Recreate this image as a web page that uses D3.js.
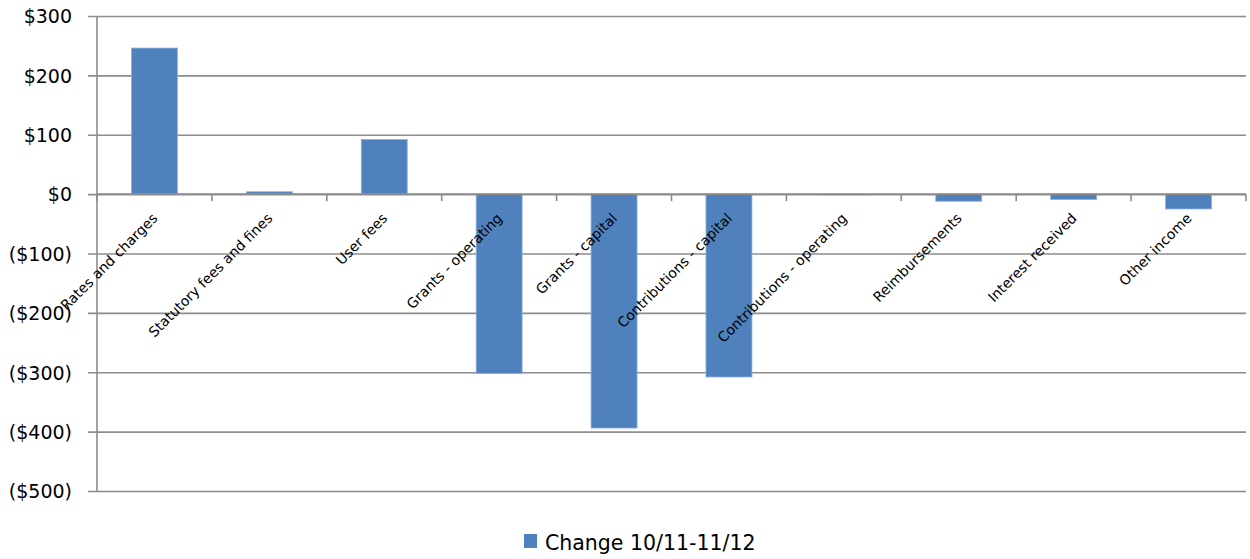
<!DOCTYPE html>
<html>
<head>
<meta charset="utf-8">
<script src="https://cdn.jsdelivr.net/npm/d3@7/dist/d3.min.js"></script>
<style>
  html, body { margin: 0; padding: 0; background: #fff; }
  svg { display: block; }
  text { font-family: "DejaVu Sans", sans-serif; fill: #000; }
</style>
</head>
<body>
<svg id="chart" width="1250" height="559"></svg>
<script>
// Revenue categories and their change between 2010/11 and 2011/12 ($ thousands)
const categories = [
  "Rates and charges",
  "Statutory fees and fines",
  "User fees",
  "Grants - operating",
  "Grants - capital",
  "Contributions - capital",
  "Contributions - operating",
  "Reimbursements",
  "Interest received",
  "Other income"
];
const changeValues = [246, 4, 92, -302, -394, -308, -1, -12, -9, -25];
const yTicks = [300, 200, 100, 0, -100, -200, -300, -400, -500];
const seriesName = "Change 10/11-11/12";

const svg = d3.select("#chart");
const plotLeft = 97, plotRight = 1246, plotTop = 16, plotBottom = 491;

const x = d3.scaleBand()
  .domain(categories)
  .range([plotLeft, plotRight])
  .paddingInner(0.6)
  .paddingOuter(0.3);

const xBoundary = d3.scaleLinear()
  .domain([0, categories.length])
  .range([plotLeft, plotRight]);

const y = d3.scaleLinear()
  .domain([-500, 300])
  .range([plotBottom, plotTop]);

const fmt = v => v < 0 ? "($" + Math.abs(v) + ")" : "$" + v;

// Horizontal gridlines with short tick marks left of the axis
const yAxis = d3.axisLeft(y)
  .tickValues(yTicks)
  .tickFormat(fmt)
  .tickSize(0)
  .tickPadding(0);

const gy = svg.append("g")
  .attr("transform", `translate(${plotLeft},0)`)
  .call(yAxis);
gy.select(".domain").remove();
gy.selectAll(".tick line")
  .attr("x1", -9)
  .attr("x2", plotRight - plotLeft)
  .attr("stroke", "#8c8c8c")
  .attr("stroke-width", 1.6);
gy.selectAll(".tick text")
  .attr("x", -25)
  .attr("dy", "0.36em")
  .attr("text-anchor", "end")
  .attr("fill", "#000")
  .style("font-family", "'DejaVu Sans', sans-serif")
  .style("font-size", "19px");

// Vertical axis line
svg.append("line")
  .attr("x1", plotLeft).attr("x2", plotLeft)
  .attr("y1", plotTop).attr("y2", plotBottom)
  .attr("stroke", "#8c8c8c")
  .attr("stroke-width", 1.6);

// Bars
svg.append("g")
  .selectAll("rect")
  .data(categories.map((c, i) => ({ c, v: changeValues[i] })))
  .join("rect")
  .attr("x", d => x(d.c))
  .attr("width", x.bandwidth())
  .attr("y", d => y(Math.max(0, d.v)))
  .attr("height", d => Math.abs(y(d.v) - y(0)))
  .attr("fill", "#4f81bd")
  .attr("stroke", "#8eb0dc")
  .attr("stroke-width", 0.8);

// Zero axis line and category boundary ticks
svg.append("line")
  .attr("x1", plotLeft).attr("x2", plotRight)
  .attr("y1", y(0)).attr("y2", y(0))
  .attr("stroke", "#8c8c8c")
  .attr("stroke-width", 1.6);

svg.append("g")
  .selectAll("line")
  .data(d3.range(categories.length + 1))
  .join("line")
  .attr("x1", i => xBoundary(i)).attr("x2", i => xBoundary(i))
  .attr("y1", y(0)).attr("y2", y(0) + 7)
  .attr("stroke", "#8c8c8c")
  .attr("stroke-width", 1.6);

// Rotated category labels
svg.append("g")
  .selectAll("text")
  .data(categories)
  .join("text")
  .attr("transform", c => `translate(${x(c) + x.bandwidth() / 2 + 4},${y(0) + 25}) rotate(-45)`)
  .attr("text-anchor", "end")
  .style("font-size", "14px")
  .text(c => c);

// Legend
const legend = svg.append("g").attr("transform", "translate(524,534)");
legend.append("rect")
  .attr("width", 13).attr("height", 14)
  .attr("fill", "#4f81bd");
legend.append("text")
  .attr("x", 21).attr("y", 15.5)
  .style("font-size", "20.5px")
  .text(seriesName);
</script>
</body>
</html>
